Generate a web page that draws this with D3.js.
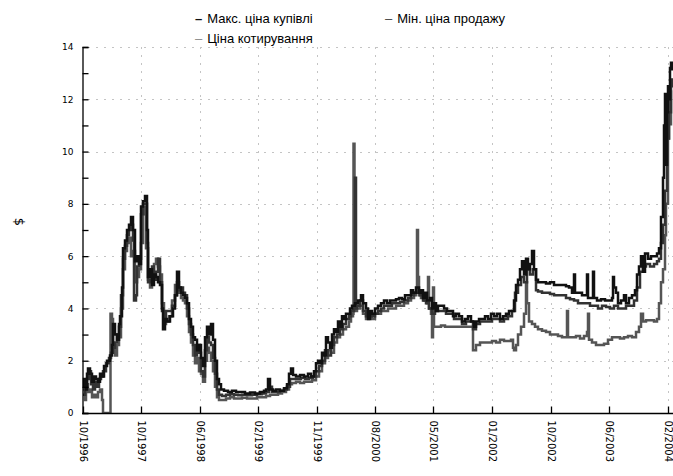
<!DOCTYPE html>
<html>
<head>
<meta charset="utf-8">
<script src="https://cdn.jsdelivr.net/npm/d3@7"></script>
<style>
  html, body { margin: 0; padding: 0; background: #fff; }
  svg { display: block; }
</style>
</head>
<body>
<div id="chart"></div>
<script>
// ---- DATA ----
// x = observation index (trading-sample position), y = price in $
const tickIdx = [0, 58, 117, 175, 234, 292, 350, 409, 468, 526, 585];
const tickLabels = ["10/1996","10/1997","06/1998","02/1999","11/1999","08/2000","05/2001","01/2002","10/2002","06/2003","02/2004"];
const yTicks = [0,1,2,3,4,5,6,7,8,9,10,11,12,13,14];

const seriesNames = ["Макс. ціна купівлі", "Мін. ціна продажу", "Ціна котирування"];

const maxBid = [[0,1.0],[1,1.3],[3,0.9],[4,1.5],[5,1.7],[7,1.5],[9,1.2],[11,1.4],[13,1.3],[15,1.2],[17,1.5],[19,1.4],[21,1.8],[24,2.0],[27,2.2],[29,2.6],[30,3.4],[32,3.0],[34,2.8],[36,3.4],[37,3.7],[39,4.8],[40,6.3],[42,6.6],[44,7.0],[46,7.2],[48,7.5],[50,7.0],[52,5.8],[54,6.0],[56,5.7],[58,7.9],[60,8.1],[62,8.3],[64,7.0],[65,5.2],[67,5.5],[69,4.9],[71,5.3],[73,5.2],[75,5.0],[77,4.9],[79,4.0],[80,3.2],[82,3.6],[84,3.5],[87,3.7],[90,4.0],[92,4.5],[94,5.4],[96,4.8],[98,4.6],[100,4.5],[102,4.4],[104,4.2],[106,3.6],[108,3.3],[110,2.9],[112,2.8],[114,2.4],[116,2.6],[118,2.1],[120,1.8],[122,2.9],[124,3.3],[126,3.0],[128,3.4],[130,2.8],[132,2.0],[134,1.3],[136,1.1],[138,0.9],[141,0.85],[145,0.8],[149,0.85],[153,0.8],[157,0.8],[162,0.75],[167,0.78],[172,0.75],[177,0.8],[181,0.85],[183,0.9],[185,1.3],[187,0.9],[190,0.85],[193,0.9],[197,0.85],[201,0.95],[204,1.1],[206,1.5],[208,1.7],[210,1.45],[213,1.4],[217,1.45],[221,1.4],[225,1.5],[228,1.4],[231,1.6],[233,1.9],[235,2.0],[237,1.9],[239,2.3],[241,2.2],[243,2.9],[245,2.7],[247,2.5],[249,3.0],[251,3.2],[253,3.1],[255,3.5],[257,3.3],[259,3.7],[261,3.6],[263,3.8],[265,3.8],[267,4.0],[269,4.1],[272,4.2],[275,4.3],[278,4.5],[280,4.2],[283,4.0],[285,3.6],[287,3.9],[289,3.8],[292,4.0],[295,4.1],[298,4.2],[301,4.3],[304,4.2],[307,4.3],[310,4.3],[313,4.35],[316,4.4],[319,4.35],[322,4.5],[325,4.5],[328,4.7],[330,4.6],[333,4.8],[336,4.6],[338,4.7],[340,4.4],[342,4.6],[344,4.3],[347,4.4],[349,4.0],[351,4.2],[353,3.9],[355,4.1],[358,4.1],[361,4.0],[364,3.9],[367,3.9],[370,3.7],[373,3.8],[376,3.7],[379,3.5],[382,3.6],[385,3.7],[388,3.5],[391,3.3],[393,3.5],[396,3.6],[399,3.6],[402,3.7],[405,3.6],[408,3.8],[411,3.7],[414,3.8],[417,3.6],[420,3.7],[423,3.8],[426,3.9],[429,3.9],[431,4.3],[433,4.9],[435,5.1],[437,5.5],[439,5.8],[441,5.3],[443,5.9],[445,5.5],[447,5.7],[449,6.2],[451,5.5],[453,5.1],[455,5.0],[459,5.0],[463,4.95],[467,5.0],[471,4.9],[475,4.9],[479,4.9],[483,4.85],[486,4.8],[489,4.6],[491,5.3],[492,4.6],[495,4.6],[499,4.5],[502,4.5],[504,5.3],[505,4.4],[507,4.4],[510,5.4],[511,4.4],[514,4.3],[518,4.35],[522,4.3],[526,4.3],[529,4.4],[530,5.2],[531,4.8],[533,4.6],[535,4.2],[538,4.3],[541,4.5],[543,4.2],[546,4.4],[549,4.5],[552,4.7],[554,5.3],[556,5.6],[558,6.0],[560,5.4],[562,6.1],[565,5.9],[568,6.0],[571,6.0],[574,6.1],[576,6.3],[578,7.5],[580,9.0],[581,11.0],[582,12.2],[583,9.5],[584,11.5],[585,12.5],[586,12.0],[587,13.2],[588,13.4],[589,13.1]];

const minAsk = [[0,0.7],[2,1.0],[4,1.3],[6,1.6],[8,1.1],[10,0.9],[12,1.2],[14,1.0],[16,1.3],[18,1.4],[20,1.6],[23,1.9],[26,2.1],[28,2.3],[30,2.5],[32,2.7],[34,3.0],[36,3.3],[38,4.5],[40,5.9],[42,6.4],[44,6.8],[46,7.0],[48,7.2],[50,6.6],[51,4.3],[53,4.5],[54,5.6],[56,5.9],[58,7.6],[60,8.0],[62,8.0],[64,6.5],[65,5.0],[67,5.1],[69,5.6],[71,5.1],[73,5.4],[75,5.9],[77,5.0],[79,3.9],[81,3.6],[83,3.9],[86,3.9],[89,4.1],[92,4.5],[94,5.0],[96,4.7],[98,4.8],[100,4.6],[102,4.5],[104,4.0],[106,3.4],[108,3.0],[110,2.6],[112,2.2],[114,2.6],[116,2.3],[118,1.6],[120,1.4],[122,2.4],[124,2.9],[126,2.7],[128,2.6],[130,2.1],[132,1.5],[134,0.9],[136,0.7],[139,0.65],[143,0.7],[147,0.72],[151,0.7],[155,0.68],[159,0.7],[164,0.68],[169,0.7],[174,0.72],[179,0.75],[183,0.8],[186,1.0],[189,0.8],[193,0.8],[197,0.85],[201,0.9],[204,1.0],[207,1.3],[210,1.3],[214,1.3],[218,1.35],[222,1.3],[226,1.35],[230,1.4],[233,1.6],[236,1.8],[239,2.0],[242,2.4],[245,2.2],[248,2.6],[251,2.9],[254,3.0],[257,3.2],[260,3.4],[263,3.6],[266,3.7],[268,3.9],[271,4.0],[272,9.0],[273,4.0],[274,4.1],[277,4.3],[280,3.9],[283,3.7],[286,3.8],[289,3.7],[292,3.8],[295,3.9],[298,4.0],[301,4.1],[305,4.1],[309,4.2],[313,4.2],[317,4.25],[321,4.3],[325,4.4],[328,4.5],[331,4.6],[334,4.6],[337,4.5],[340,4.3],[343,4.2],[346,4.0],[349,3.8],[352,3.9],[355,3.9],[359,3.9],[363,3.8],[367,3.8],[371,3.6],[375,3.6],[379,3.4],[383,3.5],[387,3.5],[390,3.2],[393,3.4],[397,3.5],[401,3.5],[405,3.5],[409,3.6],[413,3.6],[417,3.5],[421,3.6],[425,3.7],[429,3.9],[432,4.6],[435,4.9],[438,5.2],[441,5.0],[444,5.5],[447,5.3],[450,5.5],[453,4.7],[455,4.65],[459,4.6],[463,4.6],[467,4.55],[471,4.5],[475,4.5],[479,4.5],[483,4.4],[487,4.35],[491,4.3],[495,4.2],[499,4.2],[503,4.2],[507,4.1],[511,4.1],[515,4.0],[519,4.1],[523,4.05],[527,4.0],[531,4.1],[535,4.0],[539,4.0],[543,4.1],[547,4.1],[551,4.3],[554,4.8],[557,5.4],[560,5.6],[563,5.7],[567,5.6],[571,5.7],[574,5.8],[576,5.9],[578,6.5],[580,7.2],[582,8.5],[584,10.5],[586,11.5],[588,12.5],[589,12.8]];

const quote = [[0,0.9],[2,0.5],[3,1.1],[5,0.8],[7,0.9],[9,0.6],[11,0.7],[13,0.6],[15,0.8],[17,0.9],[19,0.5],[20,0],[27,0],[27.5,3.8],[29,3.6],[30,2.4],[32,2.2],[34,2.6],[36,2.9],[38,4.0],[40,5.5],[42,6.2],[44,6.5],[46,6.7],[48,6.0],[50,6.2],[52,5.0],[54,5.2],[56,5.5],[58,6.5],[60,7.6],[62,7.9],[63,6.3],[65,5.1],[67,4.8],[69,5.2],[71,5.7],[73,5.9],[75,5.6],[77,5.3],[79,4.2],[81,3.4],[83,3.5],[86,3.7],[89,4.3],[92,4.9],[94,4.7],[96,4.6],[98,4.4],[100,4.3],[102,4.2],[104,3.7],[106,3.1],[108,2.7],[110,2.2],[112,1.9],[114,2.1],[116,1.6],[118,1.5],[120,1.2],[122,2.0],[124,2.5],[126,2.3],[128,2.0],[130,1.6],[132,1.0],[134,0.6],[136,0.5],[139,0.5],[143,0.55],[147,0.6],[151,0.55],[155,0.55],[159,0.58],[164,0.55],[169,0.55],[174,0.6],[179,0.6],[183,0.65],[187,0.7],[191,0.7],[195,0.75],[199,0.8],[203,0.9],[206,1.1],[209,1.15],[213,1.2],[217,1.15],[221,1.2],[225,1.2],[229,1.25],[233,1.4],[236,1.6],[239,1.9],[242,2.1],[245,2.4],[248,2.3],[251,2.7],[254,2.9],[257,3.0],[260,3.2],[263,3.3],[266,3.5],[268,3.7],[270,3.8],[270.5,10.3],[271.5,3.9],[272,3.9],[274,4.0],[277,4.1],[280,3.8],[283,3.6],[286,3.7],[289,3.6],[292,3.8],[295,3.8],[298,3.9],[301,3.9],[305,4.0],[309,4.0],[313,4.1],[317,4.1],[321,4.2],[325,4.3],[328,4.4],[331,4.5],[333,4.6],[334,7.0],[335,5.2],[336,4.5],[338,4.4],[341,4.3],[344,4.2],[345,5.2],[346,4.0],[348,3.8],[349,2.9],[350,4.8],[351,3.3],[354,3.3],[358,3.35],[362,3.3],[366,3.3],[370,3.3],[374,3.3],[378,3.3],[382,3.3],[386,3.3],[389,3.3],[390,2.4],[393,2.6],[397,2.7],[401,2.7],[405,2.7],[409,2.75],[413,2.7],[417,2.8],[421,2.75],[425,2.75],[428,2.8],[430,2.5],[431,2.4],[433,2.6],[435,3.0],[438,3.3],[441,3.8],[443,5.0],[444,4.2],[446,3.5],[449,3.4],[452,3.3],[455,3.2],[459,3.15],[463,3.1],[467,3.0],[471,3.0],[475,2.95],[479,2.9],[483,2.9],[484,3.9],[485,2.9],[489,2.9],[493,2.95],[497,2.85],[501,2.95],[504,3.1],[505,3.8],[506,2.8],[509,2.7],[513,2.6],[517,2.6],[521,2.65],[525,2.8],[529,2.9],[533,2.9],[537,2.85],[541,2.9],[545,2.95],[549,2.9],[553,3.1],[556,3.3],[558,3.8],[560,3.5],[563,3.55],[567,3.55],[571,3.5],[574,3.6],[576,4.2],[578,5.0],[580,5.5],[582,6.8],[583,8.0],[585,10.5],[586,11.8],[587,12.3],[588,11.0]];

const seriesColors = ["#111111", "#333333", "#555555"];
const legendDashColors = ["#111111", "#444444", "#8a8a8a"];

// ---- LAYOUT ----
const W = 673, H = 476;
const mLeft = 82, mRight = 673, mTop = 47, mBottom = 413;

const svg = d3.select("#chart").append("svg")
  .attr("width", W).attr("height", H);

const x = d3.scaleLinear().domain([0, 585]).range([83, 668]);
const y = d3.scaleLinear().domain([0, 14]).range([mBottom, mTop]);

// grid
const grid = svg.append("g").attr("stroke", "#c4c4c4").attr("stroke-width", 1)
  .attr("stroke-dasharray", "2,6");
grid.selectAll("line.v").data(tickIdx.slice(1)).join("line")
  .attr("class", "v")
  .attr("x1", d => Math.round(x(d)) + 0.5).attr("x2", d => Math.round(x(d)) + 0.5)
  .attr("y1", mTop).attr("y2", mBottom);
grid.selectAll("line.h").data(yTicks.filter(v => v > 0 && v % 2 === 0)).join("line")
  .attr("class", "h")
  .attr("x1", mLeft + 6).attr("x2", mRight)
  .attr("y1", d => Math.round(y(d)) + 0.5).attr("y2", d => Math.round(y(d)) + 0.5);

// lines
svg.append("clipPath").attr("id", "clip").append("rect")
  .attr("x", mLeft).attr("y", 0).attr("width", mRight - mLeft).attr("height", mBottom + 1);

const line = d3.line().x(d => x(d[0])).y(d => y(d[1])).curve(d3.curveStepAfter);
const plot = svg.append("g").attr("clip-path", "url(#clip)");
[[quote, seriesColors[2]], [minAsk, seriesColors[1]], [maxBid, seriesColors[0]]].forEach(([s, col]) => {
  plot.append("path").datum(s)
    .attr("d", line)
    .attr("fill", "none")
    .attr("stroke", col)
    .attr("stroke-width", 2.5)
    .attr("stroke-linejoin", "miter");
});

// y axis
const yAxis = d3.axisLeft(y).tickValues(yTicks)
  .tickSize(-6).tickPadding(9)
  .tickFormat(d => d % 2 === 0 ? d : "");
const gy = svg.append("g").attr("transform", `translate(${mLeft + 0.5},0)`).call(yAxis);
gy.select(".domain").attr("stroke", "#000").attr("stroke-width", 1.3);
gy.selectAll(".tick line").attr("stroke", "#000").attr("stroke-width", 1.3);
gy.selectAll(".tick text").attr("font-family", "DejaVu Sans, sans-serif")
  .attr("font-size", 9).attr("fill", "#000");

// x axis
const xAxis = d3.axisBottom(x).tickValues(tickIdx)
  .tickSize(-7).tickFormat((d, i) => tickLabels[i]);
const gx = svg.append("g").attr("transform", `translate(0,${mBottom + 0.5})`).call(xAxis);
gx.select(".domain").remove();
gx.append("line").attr("x1", mLeft).attr("x2", mRight).attr("y1", 0).attr("y2", 0)
  .attr("stroke", "#000").attr("stroke-width", 1.3);
gx.selectAll(".tick line").attr("stroke", "#000").attr("stroke-width", 1.3);
gx.selectAll(".tick text")
  .attr("font-family", "DejaVu Sans, sans-serif").attr("font-size", 10).attr("fill", "#000")
  .attr("text-anchor", "start")
  .attr("transform", "translate(0,7) rotate(90)")
  .attr("x", 0).attr("y", 0).attr("dy", "0.35em");

// y label
svg.append("text")
  .attr("transform", `translate(20,222) rotate(90)`)
  .attr("text-anchor", "middle").attr("dy", "0.35em")
  .attr("font-family", "DejaVu Sans, sans-serif").attr("font-size", 13)
  .text("$");

// legend
const legendPos = [[195, 23], [385, 23], [195, 43]];
const lg = svg.append("g").attr("font-family", "Liberation Sans, Arial, sans-serif").attr("font-size", 13);
seriesNames.forEach((name, i) => {
  const [lx, ly] = legendPos[i];
  const t = lg.append("text").attr("x", lx).attr("y", ly);
  t.append("tspan").attr("fill", legendDashColors[i]).attr("font-weight", i === 0 ? "bold" : "normal").text("–");
  t.append("tspan").attr("fill", "#000").attr("dx", 5).text(name);
});
</script>
</body>
</html>
